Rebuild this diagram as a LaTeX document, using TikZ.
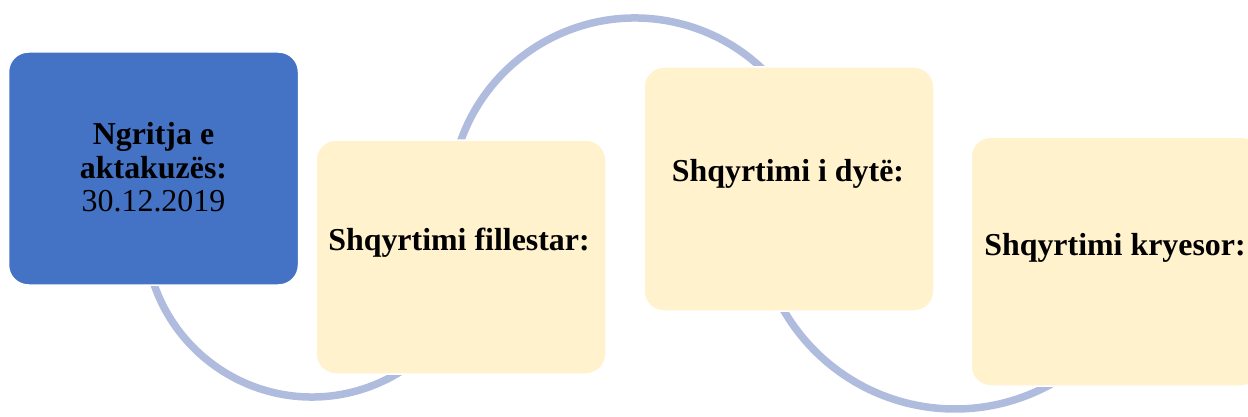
\documentclass[tikz,border=0pt]{standalone}
\usepackage{fontspec}
\setmainfont{Liberation Serif}
\definecolor{boxblue}{HTML}{4472C4}
\definecolor{boxcream}{HTML}{FFF2CC}
\definecolor{arcblue}{RGB}{176,188,222}
\tikzset{
  stagebox/.style={rectangle, rounded corners=20pt, draw=white, line width=1.5pt,
    inner sep=0pt, outer sep=0pt, minimum width=290pt},
  stagetext/.style={anchor=base, inner sep=0pt, align=center, text=black,
    font=\fontsize{31.9}{33.5}\selectfont\bfseries},
  arcline/.style={draw=arcblue, line width=7.5pt}
}
\begin{document}
\begin{tikzpicture}[x=1pt,y=1pt]
\useasboundingbox (0,0) rectangle (1248,416);
\clip (0,0) rectangle (1248,416);
% arc centres
\coordinate (c1) at (312,186);
\coordinate (c2) at (635,213);
\coordinate (c3) at (955,205);
% arcs (behind the boxes)
\draw[arcline] (c1) ++(190:167) arc[start angle=190, end angle=310, radius=167];
\draw[arcline] (c2) ++(165:185) arc[start angle=165, end angle=40, radius=185];
\draw[arcline] (c3) ++(205:198) arc[start angle=205, end angle=302, radius=198];
% boxes
\node[stagebox, fill=boxblue, minimum height=233pt] (b1) at (153.5,247.5) {};
\node[stagebox, fill=boxcream, minimum height=234pt] (b2) at (461,159) {};
\node[stagebox, fill=boxcream, minimum height=244pt] (b3) at (789,227) {};
\node[stagebox, fill=boxcream, minimum height=249pt] (b4) at (1116,154.5) {};
% texts
\node[stagetext] (t1) at (153.5,204.3) {Ngritja e\\aktakuzës:\\\mdseries 30.12.2019};
\node[stagetext] (t2) at (459,166) {Shqyrtimi fillestar:};
\node[stagetext] (t3) at (788,234.3) {Shqyrtimi i dytë:};
\node[stagetext] (t4) at (1115,161) {Shqyrtimi kryesor:};
\end{tikzpicture}
\end{document}
